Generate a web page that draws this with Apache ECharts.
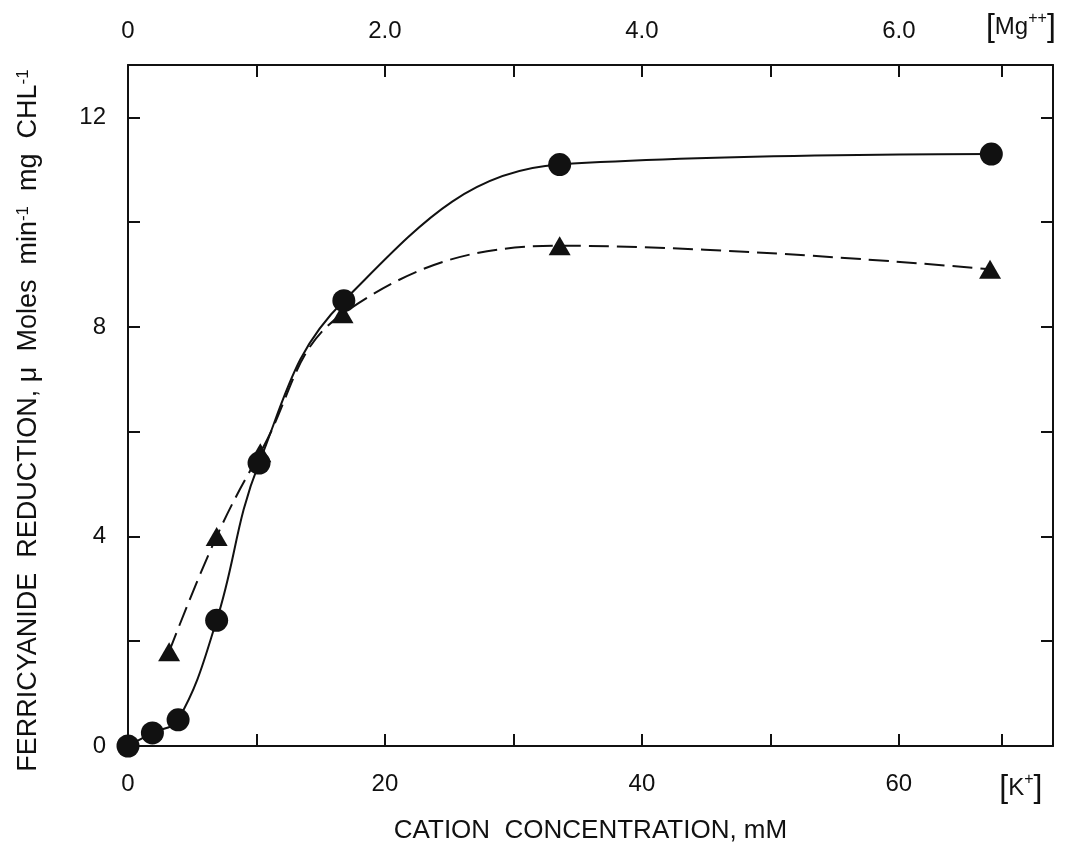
<!DOCTYPE html>
<html>
<head>
<meta charset="utf-8">
<script src="https://cdn.jsdelivr.net/npm/echarts@6/dist/echarts.min.js"></script>
<style>
  html, body { margin: 0; background: #fff; }
  #chart { width: 1088px; height: 849px; }
</style>
</head>
<body>
<div id="chart"></div>
<script>
// circles, solid curve
const circleK = [0, 1.9, 3.9, 6.9, 10.2, 16.8, 33.6, 67.2];
const circleRate = [0, 0.25, 0.5, 2.4, 5.4, 8.5, 11.1, 11.3];
// triangles, dashed curve
const triangleK = [3.2, 6.9, 10.3, 16.7, 33.6, 67.1];
const triangleRate = [1.8, 4.0, 5.6, 8.25, 9.55, 9.1];

// axis ticks / labels
const kTicks = [0, 10, 20, 30, 40, 50, 60, 68];
const kLabels = [0, 20, 40, 60];
const mgTicks = [0, 1, 2, 3, 4, 5, 6, 6.8];
const mgLabels = [0, 2, 4, 6];
const rateTicks = [0, 2, 4, 6, 8, 10, 12];
const rateLabels = [0, 4, 8, 12];

const FONT = '"Liberation Sans", Arial, sans-serif';
const INK = '#111';

const chart = echarts.init(document.getElementById('chart'), null, { renderer: 'canvas' });

const unitRich = {
  br: { fontSize: 32, fontFamily: FONT, color: INK },
  sup: { fontSize: 16, fontFamily: FONT, color: INK, verticalAlign: 'top', padding: [0, 0, 10, 0] }
};

function frameAxis(extra) {
  return Object.assign({
    type: 'value',
    axisLine: { show: true, onZero: false, lineStyle: { color: INK, width: 2 } },
    axisTick: { show: true, inside: true, length: 12, lineStyle: { color: INK, width: 2 } },
    splitLine: { show: false },
    axisLabel: { color: INK, fontFamily: FONT, fontSize: 24 }
  }, extra);
}

const option = {
  backgroundColor: '#fff',
  animation: false,
  grid: { left: 128, right: 35, top: 65, bottom: 99, containLabel: false },
  xAxis: [
    frameAxis({
      position: 'bottom', min: 0, max: 72,
      axisTick: { show: true, inside: true, length: 12, customValues: kTicks, lineStyle: { color: INK, width: 2 } },
      axisLabel: {
        color: INK, fontFamily: FONT, fontSize: 24, margin: 26,
        customValues: kLabels.concat([69.5]),
        formatter: v => v > 65 ? '{br|[}K{sup|+}{br|]}' : String(v),
        rich: unitRich
      },
      name: 'CATION  CONCENTRATION, mM',
      nameLocation: 'middle', nameGap: 72,
      nameTextStyle: { color: INK, fontFamily: FONT, fontSize: 26 }
    }),
    frameAxis({
      position: 'top', min: 0, max: 7.2,
      axisTick: { show: true, inside: true, length: 12, customValues: mgTicks, lineStyle: { color: INK, width: 2 } },
      axisLabel: {
        color: INK, fontFamily: FONT, fontSize: 24, margin: 22,
        customValues: mgLabels.concat([6.95]),
        formatter: v => v > 6.5 ? '{br|[}Mg{sup|++}{br|]}' : (v === 0 ? '0' : v.toFixed(1)),
        rich: unitRich
      }
    })
  ],
  yAxis: [
    frameAxis({
      position: 'left', min: 0, max: 13,
      axisTick: { show: true, inside: true, length: 12, customValues: rateTicks, lineStyle: { color: INK, width: 2 } },
      axisLabel: { color: INK, fontFamily: FONT, fontSize: 24, margin: 22, customValues: rateLabels },
      name: 'FERRICYANIDE  REDUCTION, μ  Moles  min{sup|-1}  mg  CHL{sup|-1}',
      nameLocation: 'middle', nameRotate: 90, nameGap: 86,
      nameTextStyle: {
        color: INK, fontFamily: FONT, fontSize: 27,
        padding: [0, 30, 0, 0],
        rich: { sup: { fontSize: 17, fontFamily: FONT, color: INK, verticalAlign: 'top', padding: [0, 0, 10, 0] } }
      }
    }),
    frameAxis({
      position: 'right', min: 0, max: 13,
      axisTick: { show: true, inside: true, length: 12, customValues: rateTicks, lineStyle: { color: INK, width: 2 } },
      axisLabel: { show: false }
    })
  ],
  series: [
    {
      name: 'circles',
      type: 'line',
      xAxisIndex: 0, yAxisIndex: 0,
      data: circleK.map((k, i) => [k, circleRate[i]]),
      smooth: 0.4,
      symbol: 'circle',
      symbolSize: 23,
      itemStyle: { color: INK },
      lineStyle: { color: INK, width: 2 },
      z: 3
    },
    {
      name: 'triangles',
      type: 'line',
      xAxisIndex: 0, yAxisIndex: 0,
      data: triangleK.map((k, i) => [k, triangleRate[i]]),
      smooth: 0.4,
      symbol: 'triangle',
      symbolSize: [22, 19],
      itemStyle: { color: INK },
      lineStyle: { color: INK, width: 2, type: [20, 8] },
      z: 2
    }
  ]
};

chart.setOption(option);
window.addEventListener('resize', () => chart.resize());
</script>
</body>
</html>
